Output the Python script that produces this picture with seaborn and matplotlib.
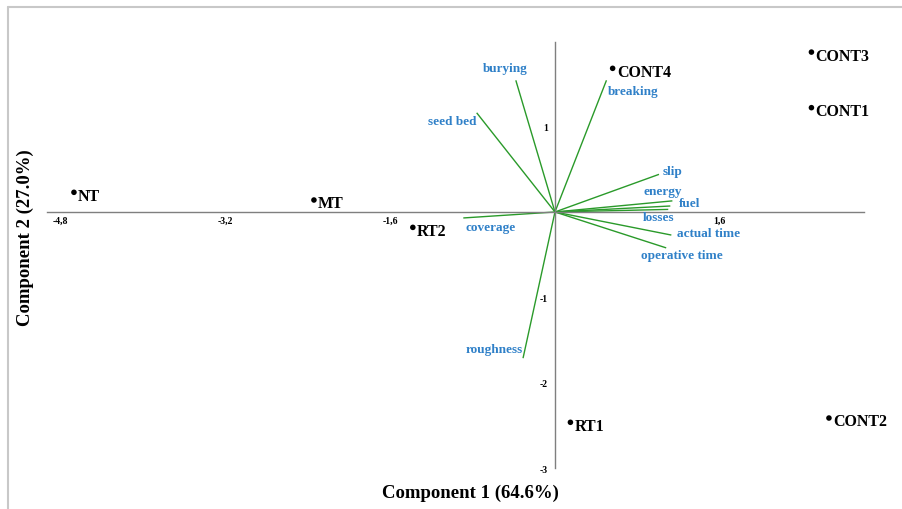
import matplotlib
matplotlib.use("Agg")
import matplotlib.pyplot as plt
from matplotlib.lines import Line2D
import seaborn as sns
import pandas as pd

# Object scores (treatments)
treatments = ["NT", "MT", "RT2", "CONT4", "CONT3", "CONT1", "CONT2", "RT1"]
comp1_scores = [-4.67, -2.34, -1.38, 0.56, 2.49, 2.49, 2.66, 0.15]
comp2_scores = [0.23, 0.14, -0.18, 1.68, 1.87, 1.22, -2.41, -2.46]

# Variable loadings (vectors from the origin)
variables = ["burying", "seed bed", "breaking", "slip", "energy", "fuel",
             "losses", "actual time", "operative time", "coverage", "roughness"]
comp1_loadings = [-0.38, -0.76, 0.50, 1.01, 1.14, 1.12, 1.10, 1.13, 1.08, -0.89, -0.31]
comp2_loadings = [1.54, 1.16, 1.54, 0.44, 0.13, 0.07, 0.03, -0.27, -0.42, -0.07, -1.71]

x_ticks = [-4.8, -3.2, -1.6, 1.6]
x_tick_labels = ["-4,8", "-3,2", "-1,6", "1,6"]
y_ticks = [1, -1, -2, -3]
y_tick_labels = ["1", "-1", "-2", "-3"]

x_title = "Component 1 (64.6%)"
y_title = "Component 2 (27.0%)"

sns.set_style("white")
plt.rcParams["font.family"] = ["Liberation Serif", "DejaVu Serif"]
plt.rcParams["font.weight"] = "bold"
plt.rcParams["text.color"] = "black"
plt.rcParams["xtick.color"] = "black"
plt.rcParams["ytick.color"] = "black"

fig = plt.figure(figsize=(9.03, 5.10), dpi=100)
ax = fig.add_axes([0, 0, 1, 1])
ax.set_facecolor("none")
ax.set_xlim(-5.388, 3.379)
ax.set_ylim(-3.474, 2.491)

# Axes drawn through the origin
for side in ["top", "right"]:
    ax.spines[side].set_visible(False)
ax.spines["left"].set_position(("data", 0))
ax.spines["bottom"].set_position(("data", 0))
ax.spines["left"].set_bounds(-3.0, 1.99)
ax.spines["bottom"].set_bounds(-4.93, 3.0)
for side in ["left", "bottom"]:
    ax.spines[side].set_color("#7f7f7f")
    ax.spines[side].set_linewidth(1.0)

ax.set_xticks(x_ticks)
ax.set_xticklabels(x_tick_labels)
ax.set_yticks(y_ticks)
ax.set_yticklabels(y_tick_labels)
ax.tick_params(axis="both", length=3, width=0.8, color="#7f7f7f",
               labelsize=7, labelcolor="black", pad=2, direction="out")
ax.tick_params(axis="x", length=2, pad=0.5)
for lab in ax.get_xticklabels() + ax.get_yticklabels():
    lab.set_fontweight("bold")

# Loading vectors
vec_color = "#2a9a2a"
for vx, vy in zip(comp1_loadings, comp2_loadings):
    ax.plot([0, vx], [0, vy], color=vec_color, lw=1.0, solid_capstyle="butt", zorder=2)

label_color = "#2f80c8"
vec_label_pos = {
    "burying": (-0.48, 1.68, "center", "center"),
    "seed bed": (-0.76, 1.06, "right", "center"),
    "breaking": (0.51, 1.42, "left", "center"),
    "slip": (1.05, 0.48, "left", "center"),
    "energy": (1.05, 0.25, "center", "center"),
    "fuel": (1.20, 0.10, "left", "center"),
    "losses": (1.01, -0.06, "center", "center"),
    "actual time": (1.18, -0.25, "left", "center"),
    "operative time": (1.23, -0.50, "center", "center"),
    "coverage": (-0.62, -0.17, "center", "center"),
    "roughness": (-0.31, -1.60, "right", "center"),
}
for name in variables:
    tx, ty, ha, va = vec_label_pos[name]
    ax.text(tx, ty, name, color=label_color, fontsize=9.5, fontweight="bold",
            ha=ha, va=va, zorder=4)

# Treatment scores
scores = pd.DataFrame({"treatment": treatments, "c1": comp1_scores, "c2": comp2_scores})
sns.scatterplot(data=scores, x="c1", y="c2", color="black", s=16,
                edgecolor="none", ax=ax, zorder=5)
for name, sx, sy in zip(treatments, comp1_scores, comp2_scores):
    ax.text(sx + 0.04, sy - 0.04, name, color="black", fontsize=11.5,
            fontweight="bold", ha="left", va="center", zorder=5)

ax.set_xlabel("")
ax.set_ylabel("")

fig.text(470 / 903, 1 - 493 / 510, x_title, ha="center", va="center",
         fontsize=13.5, fontweight="bold", color="black")
fig.text(25 / 903, 1 - 238 / 510, y_title, ha="center", va="center",
         rotation=90, fontsize=13.5, fontweight="bold", color="black")

# Light frame along the top and left edges
frame_color = "#c8c8c8"
fig.add_artist(Line2D([8 / 903, 1], [1 - 8 / 510, 1 - 8 / 510],
                      transform=fig.transFigure, color=frame_color, lw=1.5))
fig.add_artist(Line2D([8 / 903, 8 / 903], [0, 1 - 8 / 510],
                      transform=fig.transFigure, color=frame_color, lw=1.5))

fig.savefig("out.png", dpi=100, facecolor="white")
